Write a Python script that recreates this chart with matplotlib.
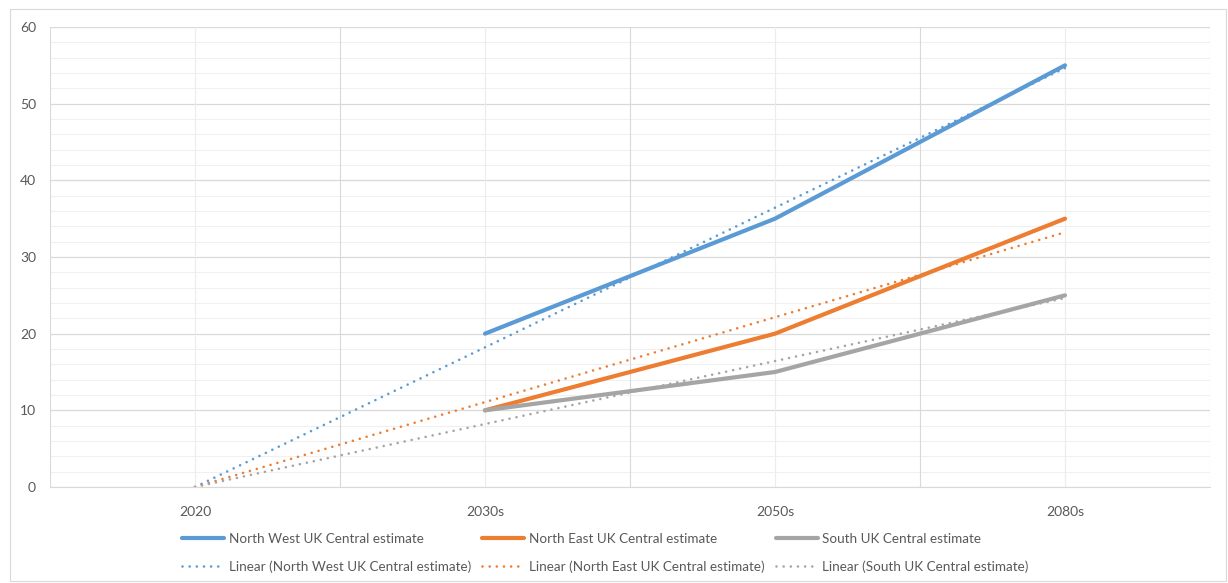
import numpy as np
import matplotlib
matplotlib.use("Agg")
import matplotlib.pyplot as plt
from matplotlib.patches import Rectangle

# Projection categories and central estimates per region
categories = ["2020", "2030s", "2050s", "2080s"]
north_west = [np.nan, 20, 35, 55]
north_east = [np.nan, 10, 20, 35]
south = [np.nan, 10, 15, 25]

series_names = ["North West UK Central estimate",
                "North East UK Central estimate",
                "South UK Central estimate"]
colors = ["#5B9BD5", "#ED7D31", "#A5A5A5"]

plt.rcParams["font.family"] = ["Lato", "DejaVu Sans"]
text_color = "#595959"

W, H, DPI = 1228, 583, 100
fig = plt.figure(figsize=(W / DPI, H / DPI), dpi=DPI)
fig.patch.set_facecolor("white")

# outer chart frame
fig.add_artist(Rectangle((10 / W, 2 / H), 1216 / W, 572 / H, transform=fig.transFigure,
                         fill=False, edgecolor="#d9d9d9", linewidth=0.8))

ax = fig.add_axes([50 / W, (H - 487) / H, 1160 / W, 460 / H])
x = np.arange(1, len(categories) + 1)

# gridlines
for yv in np.arange(0, 61, 2):
    major = yv % 10 == 0
    ax.axhline(yv, color="#d9d9d9" if major else "#f0f0f0",
               lw=0.9 if major else 0.8, zorder=0)
for xv in np.arange(0.5, 4.51, 0.5):
    major = (xv % 1) == 0.5
    ax.axvline(xv, color="#d9d9d9" if major else "#ececec", lw=0.8, zorder=0)

handles = []
for vals, name, col in zip([north_west, north_east, south], series_names, colors):
    vals = np.asarray(vals, dtype=float)
    solid, = ax.plot(x, vals, color=col, lw=3.0, solid_capstyle="round",
                     solid_joinstyle="round", zorder=3, label=name)
    # linear trend anchored at zero in the first category
    mask = ~np.isnan(vals)
    dx = x[mask] - x[0]
    slope = np.sum(dx * vals[mask]) / np.sum(dx * dx)
    trend_y = slope * (x - x[0])
    trend, = ax.plot(x, trend_y, color=col, lw=1.9, linestyle=(0, (0.01, 2.7)),
                     dash_capstyle="round", zorder=2,
                     label=f"Linear ({name})")
    handles += [solid, trend]

ax.set_xlim(0.5, 4.5)
ax.set_ylim(0, 60)
ax.set_xticks(x)
ax.set_xticklabels(categories)
ax.set_yticks(np.arange(0, 61, 10))
ax.tick_params(axis="both", length=0, labelsize=10, colors=text_color)
ax.tick_params(axis="x", pad=14)
ax.tick_params(axis="y", pad=10)
for s in ["left", "right", "top"]:
    ax.spines[s].set_visible(False)
ax.spines["bottom"].set_color("#d9d9d9")
ax.spines["bottom"].set_zorder(1)

leg = fig.legend(handles=handles, ncol=3, loc="center left",
                 bbox_to_anchor=(170 / W, (H - 553) / H), frameon=False,
                 fontsize=9.7, handlelength=3.1, handletextpad=0.35,
                 columnspacing=0.85, labelspacing=1.15, labelcolor=text_color)

fig.savefig("out.png", dpi=DPI, facecolor="white")
